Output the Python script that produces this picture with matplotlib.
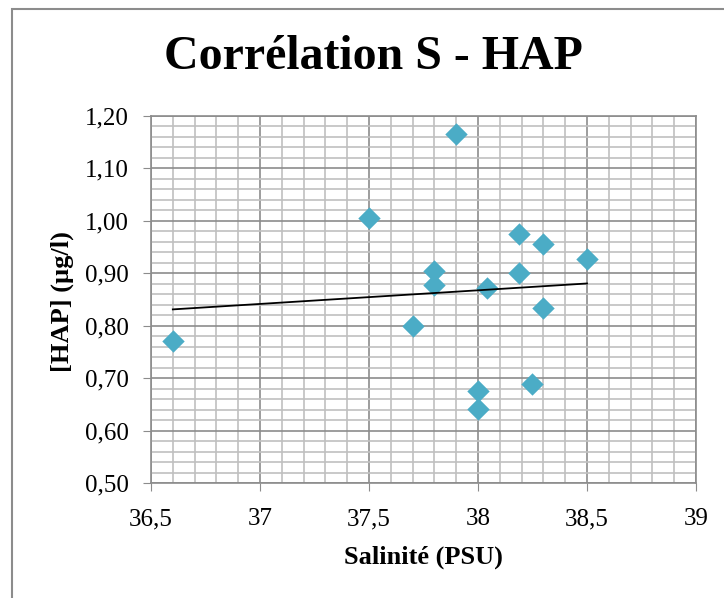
import numpy as np
import matplotlib
matplotlib.use('Agg')
import matplotlib.pyplot as plt
from matplotlib.ticker import MultipleLocator, FuncFormatter
from matplotlib.patches import Rectangle

# Salinity (PSU) and HAP concentration (µg/l)
salinite = [36.6, 37.5, 37.7, 37.8, 37.8, 37.9, 38.0, 38.0, 38.04, 38.19, 38.19, 38.25, 38.3, 38.3, 38.5]
hap = [0.770, 1.005, 0.800, 0.905, 0.877, 1.165, 0.675, 0.642, 0.871, 0.975, 0.900, 0.688, 0.955, 0.833, 0.928]

title = 'Corrélation S - HAP'
xlabel = 'Salinité (PSU)'
ylabel = '[HAP] (µg/l)'

plt.rcParams['font.family'] = ['Liberation Serif', 'DejaVu Serif']

fig = plt.figure(figsize=(7.24, 5.98), dpi=100)
ax = fig.add_axes([151 / 724, 1 - 483 / 598, 545 / 724, 367 / 598])

# Chart area border (Excel style), right/bottom edges fall outside the image
fig.patches.append(Rectangle((11.5 / 724, -0.1), 1.2, 1.1 - 9 / 598, transform=fig.transFigure,
                             fill=False, edgecolor='#8c8c8c', linewidth=1.5, zorder=0))

ax.set_xlim(36.5, 39)
ax.set_ylim(0.5, 1.2)
ax.xaxis.set_major_locator(MultipleLocator(0.5))
ax.xaxis.set_minor_locator(MultipleLocator(0.1))
ax.yaxis.set_major_locator(MultipleLocator(0.1))
ax.yaxis.set_minor_locator(MultipleLocator(0.02))
ax.xaxis.set_major_formatter(FuncFormatter(lambda v, p: f'{v:g}'.replace('.', ',')))
ax.yaxis.set_major_formatter(FuncFormatter(lambda v, p: f'{v:.2f}'.replace('.', ',')))

ax.grid(which='minor', color='#c0c0c0', linewidth=1.2, zorder=0)
ax.grid(which='major', color='#8c8c8c', linewidth=1.2, zorder=0)
ax.set_axisbelow(True)
for s in ax.spines.values():
    s.set_color('#8c8c8c')
    s.set_linewidth(1.2)
ax.tick_params(which='major', length=6, color='#8c8c8c', labelsize=18)
ax.tick_params(axis='x', which='major', pad=12)
ax.tick_params(axis='y', which='major', pad=10)
ax.tick_params(which='minor', length=0)

ax.scatter(salinite, hap, marker='D', s=130, color='#4bacc6', zorder=3, linewidths=0)

# Linear trendline
a, b = np.polyfit(salinite, hap, 1)
xs = np.array([min(salinite), max(salinite)])
ax.plot(xs, a * xs + b, color='black', linewidth=1.3, zorder=4)

fig.text(373 / 724, 1 - 57 / 598, title, fontsize=34.5, fontweight='bold', ha='center', va='center')
ax.set_xlabel(xlabel, fontsize=19, fontweight='bold')
ax.xaxis.set_label_coords(0.5, -(557 - 483) / 367, transform=ax.transAxes)
ax.xaxis.label.set_va('center')
ax.set_ylabel(ylabel, fontsize=19, fontweight='bold')
ax.yaxis.set_label_coords(-(151 - 62) / 545, (483 - 302) / 367, transform=ax.transAxes)
ax.yaxis.label.set_va('center')

fig.savefig('out.png', dpi=100)
